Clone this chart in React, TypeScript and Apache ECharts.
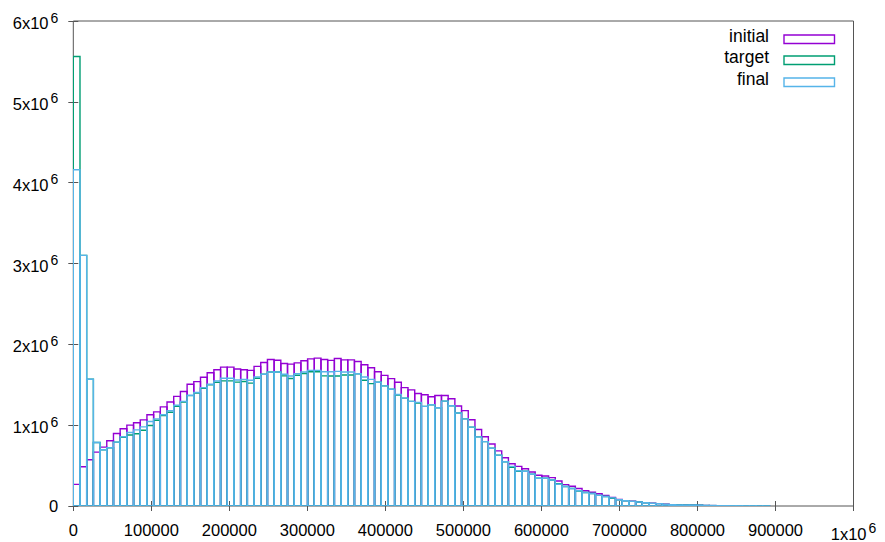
import React, { useEffect, useRef } from "react";
import * as echarts from "echarts";

// Histogram bin width (data units) and values in units of 1e6
const BIN_WIDTH = 8580;

const initialValues = [
  0.267, 0.486, 0.572, 0.667, 0.728, 0.807, 0.897, 0.955, 1.0, 1.029,
  1.066, 1.128, 1.165, 1.226, 1.287, 1.356, 1.416, 1.506, 1.539, 1.592,
  1.649, 1.686, 1.718, 1.718, 1.694, 1.686, 1.678, 1.727, 1.776, 1.812,
  1.804, 1.763, 1.755, 1.771, 1.796, 1.82, 1.829, 1.812, 1.802, 1.824,
  1.808, 1.808, 1.788, 1.747, 1.71, 1.661, 1.616, 1.576, 1.531, 1.465,
  1.437, 1.392, 1.376, 1.351, 1.367, 1.367, 1.327, 1.237, 1.18, 1.067,
  0.947, 0.857, 0.767, 0.682, 0.596, 0.522, 0.49, 0.461, 0.42, 0.38,
  0.371, 0.351, 0.31, 0.265, 0.245, 0.216, 0.188, 0.171, 0.151, 0.131,
  0.106, 0.08, 0.066, 0.058, 0.05, 0.042, 0.034, 0.029, 0.021, 0.016,
  0.013, 0.012, 0.011, 0.01, 0.006, 0.005, 0.004, 0.004, 0.003, 0.003,
  0.002, 0.002, 0.001, 0.001,
];

const targetValues = [
  5.56, 3.1, 1.568, 0.786, 0.695, 0.72, 0.79, 0.85, 0.878, 0.893,
  0.938, 0.996, 1.06, 1.12, 1.16, 1.232, 1.285, 1.365, 1.396, 1.455,
  1.5, 1.53, 1.548, 1.548, 1.532, 1.54, 1.52, 1.58, 1.63, 1.657,
  1.657, 1.61, 1.578, 1.618, 1.64, 1.66, 1.66, 1.61, 1.608, 1.608,
  1.62, 1.62, 1.637, 1.555, 1.514, 1.531, 1.486, 1.445, 1.372, 1.335,
  1.294, 1.274, 1.233, 1.253, 1.216, 1.298, 1.241, 1.151, 1.078, 0.976,
  0.855, 0.796, 0.714, 0.629, 0.547, 0.48, 0.43, 0.429, 0.392, 0.343,
  0.343, 0.322, 0.275, 0.241, 0.216, 0.185, 0.167, 0.155, 0.131, 0.118,
  0.095, 0.078, 0.065, 0.057, 0.049, 0.041, 0.033, 0.029, 0.02, 0.016,
  0.013, 0.012, 0.011, 0.01, 0.006, 0.005, 0.004, 0.004, 0.003, 0.003,
  0.002, 0.002, 0.001, 0.001,
];

const finalValues = [
  4.16, 3.1, 1.568, 0.786, 0.695, 0.72, 0.79, 0.856, 0.909, 0.942,
  0.979, 1.045, 1.078, 1.128, 1.178, 1.246, 1.294, 1.371, 1.404, 1.465,
  1.506, 1.547, 1.58, 1.58, 1.559, 1.567, 1.555, 1.596, 1.629, 1.657,
  1.657, 1.629, 1.608, 1.637, 1.657, 1.678, 1.678, 1.661, 1.661, 1.665,
  1.657, 1.657, 1.637, 1.596, 1.567, 1.531, 1.486, 1.445, 1.38, 1.335,
  1.294, 1.282, 1.233, 1.253, 1.216, 1.298, 1.241, 1.151, 1.078, 0.976,
  0.855, 0.796, 0.714, 0.629, 0.547, 0.49, 0.437, 0.429, 0.392, 0.343,
  0.343, 0.322, 0.269, 0.241, 0.216, 0.188, 0.167, 0.155, 0.131, 0.118,
  0.1, 0.078, 0.065, 0.057, 0.049, 0.041, 0.033, 0.029, 0.02, 0.016,
  0.013, 0.012, 0.011, 0.01, 0.006, 0.005, 0.004, 0.004, 0.003, 0.003,
  0.002, 0.002, 0.001, 0.001,
];

const seriesNames = ["initial", "target", "final"];
const seriesColors = ["#9400d3", "#009e73", "#56b4e9"];
const seriesValues = [initialValues, targetValues, finalValues];

const X_MIN = 0;
const X_MAX = 1000000;
const X_INTERVAL = 100000;
const Y_MIN = 0;
const Y_MAX = 6;
const Y_INTERVAL = 1;

const FONT = "'Liberation Sans', Arial, Helvetica, sans-serif";
const FONT_SIZE = 16.5;

const richStyles = {
  a: { fontFamily: FONT, fontSize: FONT_SIZE, color: "#000", verticalAlign: "bottom" as const },
  s: {
    fontFamily: FONT,
    fontSize: 14,
    color: "#000",
    padding: [0, 0, 7, 2],
    verticalAlign: "bottom" as const,
  },
};

export default function App() {
  const ref = useRef<HTMLDivElement>(null);

  useEffect(() => {
    if (!ref.current) return;
    const chart = echarts.init(ref.current, null, { renderer: "svg" });

    const series = seriesNames.map((name, si) => ({
      name,
      type: "custom",
      xAxisIndex: 0,
      yAxisIndex: 0,
      clip: true,
      data: seriesValues[si].map((v, i) => [i * BIN_WIDTH, v]),
      renderItem: (params: any, api: any) => {
        const x0 = api.value(0);
        const v = api.value(1);
        const p0 = api.coord([x0, 0]);
        const p1 = api.coord([x0 + BIN_WIDTH, v]);
        return {
          type: "rect",
          shape: {
            x: p0[0],
            y: p1[1],
            width: p1[0] - p0[0],
            height: p0[1] - p1[1],
          },
          style: {
            fill: "none",
            stroke: seriesColors[si],
            lineWidth: 1.4,
          },
        };
      },
    }));

    const legendGraphics: any[] = [];
    const legendY = [37, 58, 80];
    seriesNames.forEach((name, i) => {
      legendGraphics.push({
        type: "text",
        right: 885 - 769,
        top: legendY[i] - 10.5,
        style: {
          text: name,
          fontFamily: FONT,
          fontSize: 17.5,
          fill: "#000",
          align: "right",
        },
      });
      legendGraphics.push({
        type: "rect",
        left: 781.5,
        top: legendY[i] - 4.5,
        shape: { x: 0, y: 0, width: 50.5, height: 8.5 },
        style: { fill: "none", stroke: seriesColors[i], lineWidth: 1.4 },
      });
    });

    chart.setOption({
      animation: false,
      backgroundColor: "#fff",
      grid: {
        left: 73.3,
        right: 31.5,
        top: 21,
        bottom: 30.7,
        show: true,
        borderColor: "#555",
        borderWidth: 1,
        backgroundColor: "transparent",
      },
      xAxis: [
        {
          type: "value",
          min: X_MIN,
          max: X_MAX,
          interval: X_INTERVAL,
          splitLine: { show: false },
          axisLine: { show: false },
          axisTick: { show: true, inside: true, length: 5, lineStyle: { color: "#555" } },
          axisLabel: {
            margin: 15,
            fontFamily: FONT,
            fontSize: FONT_SIZE,
            color: "#000",
            formatter: (v: number) => (v === X_MAX ? "{a|1x10}{s|6}" : String(v)),
            rich: richStyles,
          },
        },
        {
          type: "value",
          position: "top",
          min: X_MIN,
          max: X_MAX,
          interval: X_INTERVAL,
          splitLine: { show: false },
          axisLine: { show: false },
          axisTick: { show: true, inside: true, length: 5, lineStyle: { color: "#555" } },
          axisLabel: { show: false },
        },
      ],
      yAxis: [
        {
          type: "value",
          min: Y_MIN,
          max: Y_MAX,
          interval: Y_INTERVAL,
          splitLine: { show: false },
          axisLine: { show: false },
          axisTick: { show: true, inside: true, length: 5, lineStyle: { color: "#555" } },
          axisLabel: {
            margin: 15,
            fontFamily: FONT,
            fontSize: FONT_SIZE,
            color: "#000",
            formatter: (v: number) => (v === 0 ? "{a|0}" : `{a|${v}x10}{s|6}`),
            rich: richStyles,
          },
        },
        {
          type: "value",
          position: "right",
          min: Y_MIN,
          max: Y_MAX,
          interval: Y_INTERVAL,
          splitLine: { show: false },
          axisLine: { show: false },
          axisTick: { show: true, inside: true, length: 5, lineStyle: { color: "#555" } },
          axisLabel: { show: false },
        },
      ],
      graphic: legendGraphics,
      series,
    });

    return () => chart.dispose();
  }, []);

  return (
    <div
      ref={ref}
      style={{ position: "fixed", left: 0, top: 0, width: 885, height: 542 }}
    />
  );
}
